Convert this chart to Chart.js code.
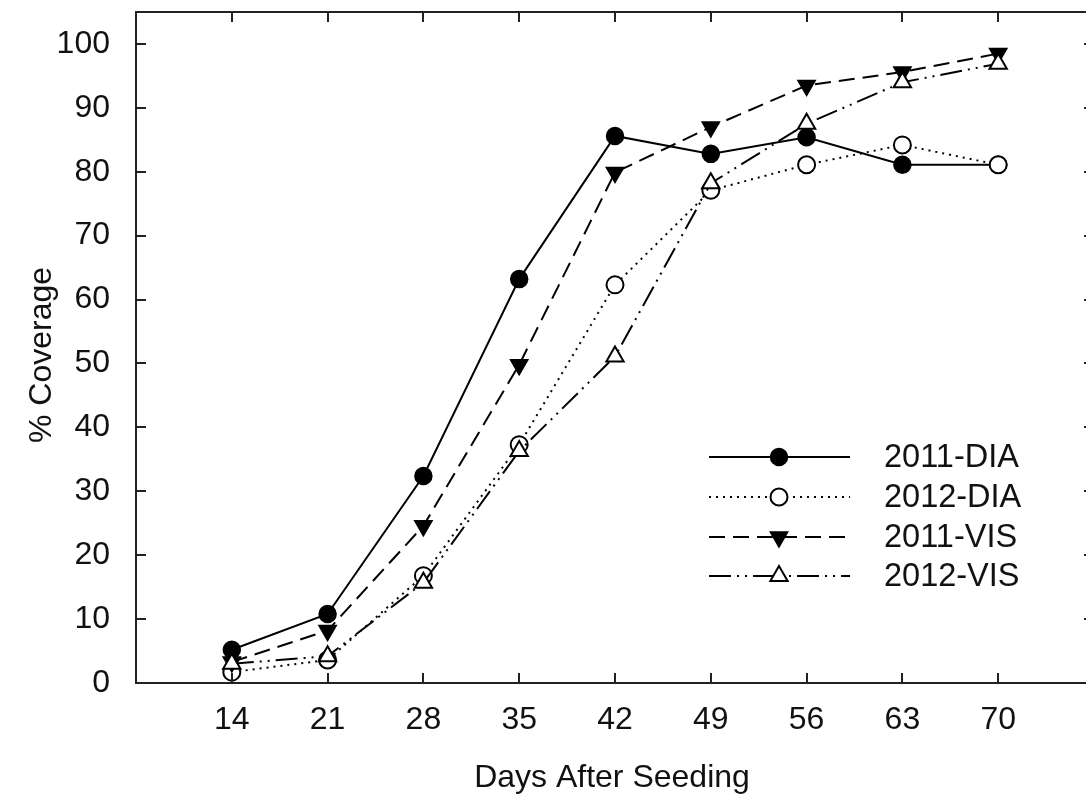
<!DOCTYPE html>
<html lang="en">

<head>
  <meta charset="UTF-8">
  <script src="https://cdn.jsdelivr.net/npm/chart.js"></script>
  <style>
    body {
      margin: 0;
      background: #fff;
    }

    .wrap {
      width: 1086px;
      height: 796px;
      overflow: hidden;
    }
  </style>
</head>

<body>
  <div class="wrap">
    <canvas id="myChart" width="1106" height="796"></canvas>
  </div>
</body>
<script>
  // data
  const days = [14, 21, 28, 35, 42, 49, 56, 63, 70];
  const dia2011 = [5.2, 10.8, 32.4, 63.2, 85.6, 82.8, 85.4, 81.1, 81.1];
  const dia2012 = [1.7, 3.6, 16.8, 37.3, 62.3, 77.1, 81.1, 84.2, 81.1];
  const vis2011 = [3.3, 8.2, 24.6, 49.8, 79.9, 87.0, 93.5, 95.6, 98.5];
  const vis2012 = [3.0, 4.2, 15.7, 36.3, 51.1, 78.2, 87.5, 94.0, 96.9];
  const seriesNames = ['2011-DIA', '2012-DIA', '2011-VIS', '2012-VIS'];
  const yTicks = [0, 10, 20, 30, 40, 50, 60, 70, 80, 90, 100];

  const FONT = 'Liberation Sans, Arial, sans-serif';

  const toPts = (vals) => vals.map((v, i) => ({ x: days[i], y: v }));

  const datasets = [
    {
      label: seriesNames[0], data: toPts(dia2011), order: 4,
      borderColor: '#000', borderWidth: 2, borderDash: [],
      pointStyle: 'circle', pointRadius: 8.5, pointRotation: 0,
      pointBackgroundColor: '#000', pointBorderColor: '#000', pointBorderWidth: 1.5
    },
    {
      label: seriesNames[1], data: toPts(dia2012), order: 3,
      borderColor: '#000', borderWidth: 2, borderDash: [2, 5],
      pointStyle: 'circle', pointRadius: 8.5, pointRotation: 0,
      pointBackgroundColor: '#fff', pointBorderColor: '#000', pointBorderWidth: 2
    },
    {
      label: seriesNames[2], data: toPts(vis2011), order: 2,
      borderColor: '#000', borderWidth: 2, borderDash: [16, 8],
      pointStyle: 'triangle', pointRadius: 10, pointRotation: 180,
      pointBackgroundColor: '#000', pointBorderColor: '#000', pointBorderWidth: 1.5
    },
    {
      label: seriesNames[3], data: toPts(vis2012), order: 1,
      borderColor: '#000', borderWidth: 2, borderDash: [22, 6, 2, 6, 2, 6],
      pointStyle: 'triangle', pointRadius: 10, pointRotation: 0,
      pointBackgroundColor: '#fff', pointBorderColor: '#000', pointBorderWidth: 2
    }
  ];
  datasets.forEach(d => { d.fill = false; d.tension = 0; d.pointHoverRadius = d.pointRadius; });

  // frame with inward ticks on all four sides, axis titles, legend
  const framePlugin = {
    id: 'frame',
    afterDraw(chart) {
      const ctx = chart.ctx;
      const a = chart.chartArea;
      const xs = chart.scales.x, ys = chart.scales.y;
      const tl = 10;
      ctx.save();
      ctx.strokeStyle = '#222';
      ctx.lineWidth = 2;
      ctx.strokeRect(a.left, a.top, a.right - a.left, a.bottom - a.top);
      ctx.beginPath();
      days.forEach(d => {
        const px = Math.round(xs.getPixelForValue(d));
        ctx.moveTo(px, a.bottom); ctx.lineTo(px, a.bottom - tl);
        ctx.moveTo(px, a.top); ctx.lineTo(px, a.top + tl);
      });
      yTicks.forEach(v => {
        const py = Math.round(ys.getPixelForValue(v));
        ctx.moveTo(a.left, py); ctx.lineTo(a.left + tl, py);
        ctx.moveTo(a.right, py); ctx.lineTo(a.right - tl, py);
      });
      ctx.stroke();

      // axis titles
      ctx.fillStyle = '#111';
      ctx.font = '32px ' + FONT;
      ctx.textAlign = 'center';
      ctx.textBaseline = 'alphabetic';
      ctx.fillText('Days After Seeding', 612, 787);
      ctx.save();
      ctx.translate(51, 355);
      ctx.rotate(-Math.PI / 2);
      ctx.fillText('% Coverage', 0, 0);
      ctx.restore();

      // legend
      const rows = [457, 497, 537, 576];
      chart.data.datasets.forEach((ds, i) => {
        const y = rows[i];
        ctx.save();
        ctx.strokeStyle = ds.borderColor;
        ctx.lineWidth = ds.borderWidth;
        ctx.setLineDash(ds.borderDash);
        ctx.beginPath();
        ctx.moveTo(709, y);
        ctx.lineTo(850, y);
        ctx.stroke();
        ctx.restore();
        ctx.save();
        ctx.fillStyle = ds.pointBackgroundColor;
        ctx.strokeStyle = ds.pointBorderColor;
        ctx.lineWidth = ds.pointBorderWidth;
        Chart.helpers.drawPoint(ctx, {
          pointStyle: ds.pointStyle, rotation: ds.pointRotation,
          radius: ds.pointRadius, borderWidth: ds.pointBorderWidth
        }, 779, y);
        ctx.restore();
        ctx.fillStyle = '#111';
        ctx.font = '32.5px ' + FONT;
        ctx.textAlign = 'left';
        ctx.textBaseline = 'middle';
        ctx.fillText(ds.label, 884, y + 1);
      });
      ctx.restore();
    }
  };

  const ctx = document.getElementById('myChart').getContext('2d');
  const chart = new Chart(ctx, {
    type: 'line',
    data: { datasets: datasets },
    options: {
      responsive: false,
      animation: false,
      layout: { padding: { left: 0, top: 10, right: 2, bottom: 0 } },
      plugins: {
        legend: { display: false },
        tooltip: { enabled: false }
      },
      scales: {
        x: {
          type: 'linear',
          min: 7,
          max: 77,
          grid: { display: false },
          border: { display: false },
          afterBuildTicks: (scale) => { scale.ticks = days.map(d => ({ value: d })); },
          afterFit: (scale) => {
            scale.height = 113;
            scale.paddingLeft = 0; scale.paddingRight = 0;
          },
          ticks: {
            color: '#111',
            padding: 10,
            maxRotation: 0,
            font: { family: FONT, size: 32 }
          }
        },
        y: {
          type: 'linear',
          min: 0,
          max: 105,
          grid: { display: false },
          border: { display: false },
          afterBuildTicks: (scale) => { scale.ticks = yTicks.map(v => ({ value: v })); },
          afterFit: (scale) => {
            scale.width = 136;
            scale.paddingTop = 0; scale.paddingBottom = 0;
          },
          ticks: {
            color: '#111',
            padding: 18,
            font: { family: FONT, size: 32 }
          }
        }
      }
    },
    plugins: [framePlugin]
  });
</script>

</html>
